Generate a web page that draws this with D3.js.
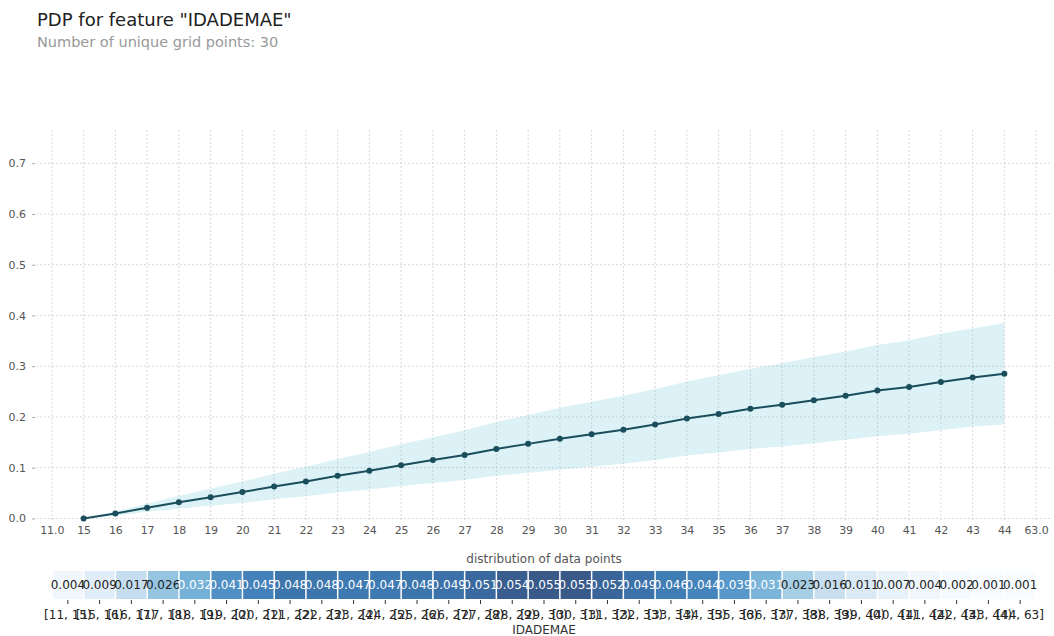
<!DOCTYPE html>
<html>
<head>
<meta charset="utf-8">
<script src="https://cdn.jsdelivr.net/npm/d3@7"></script>
<style>
  html, body { margin: 0; padding: 0; background: #fff; }
  svg { display: block; font-family: "DejaVu Sans", sans-serif; }
</style>
</head>
<body>
<svg id="chart" width="1054" height="636"></svg>
<script>
// Grid points for the PDP line (feature values) and axis tick labels
const xTickLabels = ["11.0", "15", "16", "17", "18", "19", "20", "21", "22", "23", "24", "25", "26", "27",
  "28", "29", "30", "31", "32", "33", "34", "35", "36", "37", "38", "39", "40", "41", "42", "43", "44", "63.0"];
const gridPoints = [15, 16, 17, 18, 19, 20, 21, 22, 23, 24, 25, 26, 27, 28, 29, 30, 31, 32, 33, 34, 35, 36, 37, 38, 39, 40, 41, 42, 43, 44];

// Partial dependence values and the +/- one std band
const pdpValues = [0.000, 0.010, 0.021, 0.032, 0.042, 0.052, 0.063, 0.073, 0.084, 0.094, 0.105, 0.115, 0.125, 0.137, 0.147,
  0.157, 0.166, 0.175, 0.185, 0.197, 0.206, 0.216, 0.224, 0.233, 0.242, 0.252, 0.259, 0.269, 0.278, 0.285];
const pdpUpper = [0.000, 0.014, 0.029, 0.045, 0.059, 0.073, 0.088, 0.102, 0.117, 0.131, 0.146, 0.160, 0.174, 0.190, 0.204,
  0.218, 0.230, 0.242, 0.255, 0.270, 0.282, 0.295, 0.306, 0.318, 0.329, 0.342, 0.351, 0.364, 0.375, 0.385];
const pdpLower = [0.000, 0.006, 0.013, 0.019, 0.025, 0.031, 0.038, 0.044, 0.051, 0.057, 0.064, 0.070, 0.076, 0.084, 0.090,
  0.096, 0.102, 0.108, 0.115, 0.124, 0.130, 0.137, 0.142, 0.148, 0.155, 0.162, 0.167, 0.174, 0.181, 0.185];
const yTicks = [0.0, 0.1, 0.2, 0.3, 0.4, 0.5, 0.6, 0.7];

// Share of data points falling in each feature bin
const binLabels = ["[11, 15)", "[15, 16)", "[16, 17)", "[17, 18)", "[18, 19)", "[19, 20)", "[20, 21)", "[21, 22)",
  "[22, 23)", "[23, 24)", "[24, 25)", "[25, 26)", "[26, 27)", "[27, 28)", "[28, 29)", "[29, 30)", "[30, 31)",
  "[31, 32)", "[32, 33)", "[33, 34)", "[34, 35)", "[35, 36)", "[36, 37)", "[37, 38)", "[38, 39)", "[39, 40)",
  "[40, 41)", "[41, 42)", "[42, 43)", "[43, 44)", "[44, 63]"];
const binShares = [0.004, 0.009, 0.017, 0.026, 0.032, 0.041, 0.045, 0.048, 0.048, 0.047, 0.047, 0.048, 0.049, 0.051,
  0.054, 0.055, 0.055, 0.052, 0.049, 0.046, 0.044, 0.039, 0.031, 0.023, 0.016, 0.011, 0.007, 0.004, 0.002, 0.001, 0.001];

const svg = d3.select("#chart");

// Titles
svg.append("text").attr("x", 37).attr("y", 26)
  .attr("font-size", 18).attr("fill", "#222")
  .text('PDP for feature "IDADEMAE"');
svg.append("text").attr("x", 37).attr("y", 47)
  .attr("font-size", 14.5).attr("fill", "#999")
  .text("Number of unique grid points: 30");

// Main PDP panel
const plot = { left: 36, right: 1052, top: 130, bottom: 521 };
const x = d3.scaleLinear().domain([-0.5, xTickLabels.length - 0.5]).range([plot.left, plot.right]);
const y = d3.scaleLinear().domain([-0.005, 0.7655]).range([plot.bottom, plot.top]);
const xIndex = v => xTickLabels.indexOf(String(v));

const grid = svg.append("g").attr("stroke", "#cfcfcf").attr("stroke-width", 0.8).attr("stroke-dasharray", "2,2");
grid.selectAll("line.v").data(xTickLabels).join("line").attr("class", "v")
  .attr("x1", (d, i) => x(i)).attr("x2", (d, i) => x(i))
  .attr("y1", plot.top).attr("y2", plot.bottom);
grid.selectAll("line.h").data(yTicks).join("line").attr("class", "h")
  .attr("x1", plot.left).attr("x2", plot.right)
  .attr("y1", d => y(d)).attr("y2", d => y(d));

// Y axis: labels with short tick marks, no domain line
const yAxis = svg.append("g").attr("transform", `translate(${plot.left - 1},0)`)
  .call(d3.axisLeft(y).tickValues(yTicks).tickFormat(d3.format(".1f")).tickSize(3).tickPadding(6));
yAxis.select(".domain").remove();
yAxis.selectAll("line").attr("stroke", "#aaa");
yAxis.selectAll("text").attr("font-size", 11).attr("fill", "#555").attr("font-family", "DejaVu Sans");

// X axis: labels only
const xAxis = svg.append("g").attr("transform", `translate(0,${plot.bottom})`)
  .call(d3.axisBottom(x).tickValues(d3.range(xTickLabels.length)).tickFormat(i => xTickLabels[i]).tickSize(0).tickPadding(5));
xAxis.select(".domain").remove();
xAxis.selectAll("text").attr("font-size", 11).attr("fill", "#555").attr("font-family", "DejaVu Sans");

// Std band
const pts = gridPoints.map((g, i) => ({ g, v: pdpValues[i], hi: pdpUpper[i], lo: pdpLower[i] }));
svg.append("path").datum(pts)
  .attr("fill", "#66C2D7").attr("fill-opacity", 0.22)
  .attr("d", d3.area().x(d => x(xIndex(d.g))).y0(d => y(d.lo)).y1(d => y(d.hi)));

// PDP line with markers
svg.append("path").datum(pts)
  .attr("fill", "none").attr("stroke", "#1A4E5D").attr("stroke-width", 2)
  .attr("d", d3.line().x(d => x(xIndex(d.g))).y(d => y(d.v)));
svg.append("g").selectAll("circle").data(pts).join("circle")
  .attr("cx", d => x(xIndex(d.g))).attr("cy", d => y(d.v)).attr("r", 3)
  .attr("fill", "#1A4E5D");

// Distribution strip
const strip = { left: 52, right: 1036, top: 571, bottom: 599 };
const xb = d3.scaleBand().domain(binLabels).range([strip.left, strip.right]);
const [minShare, maxShare] = d3.extent(binShares);
const norm = d3.scaleLinear().domain([minShare, maxShare]).range([0, 1]);

svg.append("text").attr("x", 544).attr("y", 563).attr("text-anchor", "middle")
  .attr("font-size", 12).attr("fill", "#555").text("distribution of data points");

const cells = svg.append("g").selectAll("g").data(binLabels).join("g");
cells.append("rect")
  .attr("x", d => xb(d) + 0.75).attr("width", xb.bandwidth() - 1.5)
  .attr("y", strip.top).attr("height", strip.bottom - strip.top)
  .attr("fill", (d, i) => d3.interpolateBlues(norm(binShares[i]))).attr("fill-opacity", 0.8);
cells.append("text")
  .attr("x", d => xb(d) + xb.bandwidth() / 2).attr("y", (strip.top + strip.bottom) / 2)
  .attr("dy", "0.36em").attr("text-anchor", "middle").attr("font-size", 12)
  .attr("fill", (d, i) => norm(binShares[i]) >= 0.5 ? "#fff" : "#222")
  .text((d, i) => binShares[i].toFixed(3));

const binAxis = svg.append("g").attr("transform", `translate(0,${strip.bottom + 1})`)
  .call(d3.axisBottom(xb).tickSize(4).tickPadding(6));
binAxis.select(".domain").remove();
binAxis.selectAll("line").attr("stroke", "#333");
binAxis.selectAll("text").attr("font-size", 12).attr("fill", "#222").attr("font-family", "DejaVu Sans");

svg.append("text").attr("x", 544).attr("y", 634).attr("text-anchor", "middle")
  .attr("font-size", 12).attr("fill", "#333").text("IDADEMAE");
</script>
</body>
</html>
